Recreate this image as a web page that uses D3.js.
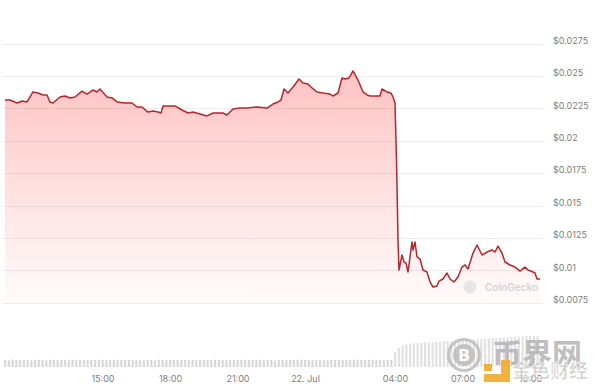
<!DOCTYPE html>
<html><head><meta charset="utf-8">
<script src="https://cdn.jsdelivr.net/npm/d3@7/dist/d3.min.js"></script>
<style>html,body{margin:0;padding:0;background:#fff;}svg{display:block;}</style>
</head><body>
<svg id="c" width="600" height="391"></svg>
<script>
// hours relative to 22 Jul 00:00
const hours = [-13.333,-13.111,-12.8,-12.578,-12.356,-12.089,-11.867,-11.644,-11.467,-11.333,-11.2,-10.889,-10.667,-10.444,-10.222,-9.911,-9.689,-9.422,-9.244,-9.111,-8.8,-8.578,-8.356,-8.0,-7.689,-7.467,-7.244,-6.978,-6.756,-6.533,-6.4,-6.311,-5.778,-5.467,-5.2,-4.978,-4.667,-4.356,-4.089,-3.644,-3.467,-3.2,-2.889,-2.578,-2.133,-1.689,-1.422,-1.2,-1.067,-0.933,-0.756,-0.533,-0.267,-0.089,0.133,0.311,0.533,0.8,1.111,1.244,1.467,1.644,1.778,1.956,2.133,2.356,2.578,2.756,2.889,3.333,3.422,3.644,3.822,3.911,4.0,4.067,4.133,4.178,4.311,4.4,4.489,4.578,4.756,4.8,4.889,4.978,5.111,5.244,5.422,5.556,5.689,5.867,5.956,6.133,6.311,6.444,6.622,6.8,6.978,7.111,7.244,7.467,7.644,7.867,8.089,8.311,8.444,8.578,8.756,8.889,9.111,9.333,9.556,9.778,9.911,10.133,10.222,10.311,10.444];
const prices = [0.02314,0.02314,0.02291,0.02306,0.02299,0.02376,0.02368,0.02353,0.02353,0.02299,0.02291,0.02337,0.02345,0.02330,0.02337,0.02383,0.02360,0.02391,0.02376,0.02399,0.02337,0.02330,0.02299,0.02291,0.02291,0.02260,0.02260,0.02221,0.02229,0.02221,0.02214,0.02268,0.02268,0.02237,0.02214,0.02221,0.02206,0.02191,0.02214,0.02214,0.02198,0.02245,0.02252,0.02252,0.02260,0.02252,0.02283,0.02299,0.02314,0.02399,0.02368,0.02414,0.02476,0.02445,0.02438,0.02407,0.02376,0.02368,0.02360,0.02345,0.02368,0.02484,0.02476,0.02484,0.02538,0.02468,0.02376,0.02353,0.02345,0.02345,0.02399,0.02376,0.02368,0.02337,0.02291,0.01851,0.01234,0.01002,0.01118,0.01064,0.01056,0.00987,0.01218,0.01157,0.01218,0.01103,0.01087,0.01002,0.00987,0.00910,0.00871,0.00879,0.00917,0.00933,0.00979,0.00933,0.00910,0.00948,0.01025,0.01041,0.01010,0.01133,0.01195,0.01118,0.01141,0.01157,0.01141,0.01187,0.01133,0.01064,0.01041,0.01025,0.00994,0.01025,0.01002,0.00987,0.00979,0.00933,0.00933];
// volume, one bar per 10 minutes starting at -13.333 h
const volumeStart = -13.333;
const volumes = [1.0,0.95,1.05,1.0,0.98,1.02,1.0,0.97,1.03,1.0,1.0,0.96,1.04,
1.0,0.98,1.0,1.02,0.97,1.0,1.03,1.0,0.98,1.0,1.01,0.99,1.0,
1.02,0.97,1.0,1.0,1.03,0.98,1.0,0.99,1.01,1.0,0.97,1.02,1.0,
1.0,0.98,1.03,1.0,0.99,1.0,1.02,0.98,1.0,1.01,0.97,1.0,1.0,
1.02,0.99,1.0,0.98,1.03,1.0,1.0,0.97,1.01,1.0,0.99,1.02,1.0,
0.98,1.0,1.03,1.0,0.99,1.0,1.01,0.97,1.0,1.02,1.0,0.98,1.0,
1.03,1.0,0.99,1.0,0.98,1.02,1.0,1.0,0.97,1.01,1.0,1.02,0.99,
1.0,0.98,1.03,1.0,1.0,0.99,1.02,1.0,0.98,1.0,1.01,1.0,1.0,
2.1,2.7,3.0,3.2,3.3,3.4,
3.4,3.45,3.5,3.5,3.55,3.6,3.6,3.65,3.7,3.7,3.75,3.8,3.8,3.85,3.9,3.9,3.95,4.0,4.0,4.05,4.1,4.1,4.15,4.2,4.2,4.25,4.3,4.3,4.35,4.4,4.4,4.4,4.4];
const yTicks = [0.0075,0.01,0.0125,0.015,0.0175,0.02,0.0225,0.025,0.0275];
const yTickLabels = ["$0.0075","$0.01","$0.0125","$0.015","$0.0175","$0.02","$0.0225","$0.025","$0.0275"];
const xTickHours = [-9,-6,-3,0,4,7,10];
const xTickLabels = ["15:00","18:00","21:00","22. Jul","04:00","07:00","10:00"];

const base = Date.UTC(2024,6,22,0,0);
const toDate = h => new Date(base + h*3600000);
const data = hours.map((h,i)=>({t:toDate(h), v:prices[i]}));

const svg = d3.select("#c");
const x = d3.scaleUtc().domain([toDate(-13.333), toDate(10.444)]).range([5,540]);
const y = d3.scaleLinear().domain([0.0075,0.0275]).range([302.7,43.5]);
const yv = d3.scaleLinear().domain([0,4.4]).range([367,336]);

// gridlines
svg.append("g").selectAll("line").data(yTicks).join("line")
  .attr("x1",3).attr("x2",543)
  .attr("y1",d=>Math.round(y(d))+0.5).attr("y2",d=>Math.round(y(d))+0.5)
  .attr("stroke","#ececec").attr("stroke-width",1);

// y labels
const yAxis = d3.axisRight(y).tickValues(yTicks).tickSize(0).tickPadding(0)
  .tickFormat((d,i)=>yTickLabels[i]);
const ga = svg.append("g").attr("transform","translate(553,-3)").call(yAxis);
ga.select(".domain").remove();
ga.selectAll("text").attr("fill","#808080").style("font-family","Inter, 'Open Sans', sans-serif").style("font-size","9px");

// volume bars
svg.append("g").selectAll("rect").data(volumes).join("rect")
  .attr("x",(d,i)=>x(toDate(volumeStart + i/6))-1)
  .attr("width",2.2)
  .attr("y",d=>yv(d)).attr("height",d=>367-yv(d))
  .attr("fill",(d)=> d>1.5 ? "#e2e2e2" : "#d8d8d8");

// area gradient
const defs = svg.append("defs");
const grad = defs.append("linearGradient").attr("id","g1").attr("gradientUnits","userSpaceOnUse")
  .attr("x1",0).attr("x2",0).attr("y1",70).attr("y2",303);
grad.append("stop").attr("offset","0").attr("stop-color","rgb(255,70,70)").attr("stop-opacity",0.33);
grad.append("stop").attr("offset","0.5").attr("stop-color","rgb(255,70,70)").attr("stop-opacity",0.17);
grad.append("stop").attr("offset","1").attr("stop-color","rgb(255,70,70)").attr("stop-opacity",0.02);

const area = d3.area().x(d=>x(d.t)).y0(303).y1(d=>y(d.v));
svg.append("path").datum(data).attr("d",area).attr("fill","url(#g1)");

// CoinGecko watermark
svg.append("circle").attr("cx",470).attr("cy",287).attr("r",6.5).attr("fill","#e6e6e6");
svg.append("text").attr("x",485).attr("y",291).text("CoinGecko")
  .attr("fill","#d4d4d4").style("font-family","Inter, sans-serif").style("font-size","10px").style("font-weight","600");

const line = d3.line().x(d=>x(d.t)).y(d=>y(d.v));
svg.append("path").datum(data).attr("d",line).attr("fill","none")
  .attr("stroke","#b8262b").attr("stroke-width",1.5).attr("stroke-linejoin","round");

// x labels
const xAxis = d3.axisBottom(x).tickValues(xTickHours.map(toDate)).tickSize(0).tickPadding(0)
  .tickFormat((d,i)=>xTickLabels[i]);
const gx = svg.append("g").attr("transform","translate(0,376)").call(xAxis);
gx.select(".domain").remove();
gx.selectAll("text").attr("fill","#808080").style("font-family","Inter, 'Open Sans', sans-serif").style("font-size","9px");

// site watermark
const wm = svg.append("g").attr("opacity",0.85);
wm.append("circle").attr("cx",464).attr("cy",355).attr("r",15.5).attr("fill","none").attr("stroke","#bcbcbc").attr("stroke-width",3);
wm.append("circle").attr("cx",464).attr("cy",355).attr("r",11).attr("fill","#bcbcbc");
wm.append("text").attr("x",464).attr("y",361).attr("text-anchor","middle").text("B")
  .attr("fill","#fff").style("font-family","DejaVu Sans, sans-serif").style("font-weight","bold").style("font-size","16px");
wm.append("text").attr("x",492).attr("y",365).text("币界网")
  .attr("fill","#b4b4b4").style("font-family","'Noto Sans CJK SC'").style("font-weight","bold").style("font-size","30px");
wm.append("rect").attr("x",501).attr("y",360).attr("width",9).attr("height",22).attr("fill","#f2a41c");
wm.append("rect").attr("x",484).attr("y",374).attr("width",26).attr("height",8).attr("fill","#f2a41c");
wm.append("rect").attr("x",484).attr("y",364).attr("width",8).attr("height",7).attr("fill","#f2a41c");
wm.append("text").attr("x",512).attr("y",378).text("金色财经")
  .attr("fill","#c4c4c4").attr("stroke","#fff").attr("stroke-width",0.6)
  .style("font-family","'Noto Sans CJK SC'").style("font-weight","bold").style("font-size","19px");
</script>
</body></html>
